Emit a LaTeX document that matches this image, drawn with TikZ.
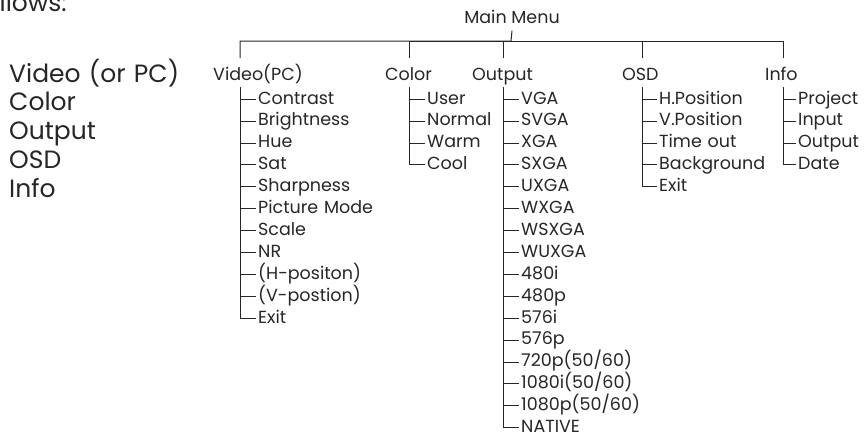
\documentclass[tikz,border=0pt]{standalone}
\usepackage{fontspec}
\setmainfont{Poppins}
\usetikzlibrary{positioning}

\begin{document}
\begin{tikzpicture}[
    x=1pt, y=-1pt,
    node distance=5pt,
    every node/.style={text=black!85},
    lst/.style={inner sep=0pt, text width=190pt, align=left, text height=19pt, text depth=6pt, font=\fontsize{25}{29}\selectfont},
    cat/.style={inner sep=0pt, text height=13pt, text depth=3.5pt, font=\fontsize{17.5}{20}\selectfont},
    item/.style={cat, inner xsep=2pt, align=left, text width=#1},
    item/.default=100pt,
    link/.style={draw=black!85, line width=1pt}
]
\useasboundingbox (0,0) rectangle (866,439);

% Cut-off line of text at the top
\node[inner sep=0pt, anchor=base east, font=\fontsize{25}{29}\selectfont] (intro) at (67,11) {follows:};

% Left list
\node[lst, anchor=base west] (lvid) at (9,82) {Video (or PC)};
\node[lst, below=3.5pt of lvid] (lcol) {Color};
\node[lst, below=3.5pt of lcol] (lout) {Output};
\node[lst, below=3.5pt of lout] (losd) {OSD};
\node[lst, below=3.5pt of losd] (linf) {Info};

% Root
\node[cat, inner ysep=4pt, anchor=base] (mm) at (512,23) {Main Menu};

% Menu groups
\node[cat, anchor=base west] (vid) at (213,80) {Video(PC)};
\node[cat, anchor=base west] (col) at (385,80) {Color};
\node[cat, anchor=base west] (out) at (472,80) {Output};
\node[cat, anchor=base west] (osd) at (622,80) {OSD};
\node[cat, anchor=base west] (inf) at (765,80) {Info};

% Bus and drops
\coordinate (bus) at (511,41);
\coordinate (vdrop) at (240,58);
\coordinate (cdrop) at (409,58);
\coordinate (odrop) at (503,58);
\coordinate (sdrop) at (642,58);
\coordinate (idrop) at (783,58);

% Trunk tops
\coordinate (vtrunk) at (240,87);
\coordinate (ctrunk) at (409,87);
\coordinate (otrunk) at (503,87);
\coordinate (strunk) at (642,87);
\coordinate (itrunk) at (783,87);

% Video(PC) items
\node[item=130pt, anchor=base west] (vcon) at (256,104) {Contrast};
\node[item=130pt, below=of vcon] (vbri) {Brightness};
\node[item=130pt, below=of vbri] (vhue) {Hue};
\node[item=130pt, below=of vhue] (vsat) {Sat};
\node[item=130pt, below=of vsat] (vsha) {Sharpness};
\node[item=130pt, below=of vsha] (vpic) {Picture Mode};
\node[item=130pt, below=of vpic] (vsca) {Scale};
\node[item=130pt, below=of vsca] (vnr) {NR};
\node[item=130pt, below=of vnr] (vhpos) {(H-positon)};
\node[item=130pt, below=of vhpos] (vvpos) {(V-postion)};
\node[item=130pt, below=of vvpos] (vexit) {Exit};

% Color items
\node[item=70pt, anchor=base west] (cuser) at (425,104) {User};
\node[item=70pt, below=of cuser] (cnorm) {Normal};
\node[item=70pt, below=of cnorm] (cwarm) {Warm};
\node[item=70pt, below=of cwarm] (ccool) {Cool};

% Output items
\node[item=130pt, anchor=base west] (ovga) at (519,104) {VGA};
\node[item=130pt, below=of ovga] (osvga) {SVGA};
\node[item=130pt, below=of osvga] (oxga) {XGA};
\node[item=130pt, below=of oxga] (osxga) {SXGA};
\node[item=130pt, below=of osxga] (ouxga) {UXGA};
\node[item=130pt, below=of ouxga] (owxga) {WXGA};
\node[item=130pt, below=of owxga] (owsxga) {WSXGA};
\node[item=130pt, below=of owsxga] (owuxga) {WUXGA};
\node[item=130pt, below=of owuxga] (o480i) {480i};
\node[item=130pt, below=of o480i] (o480p) {480p};
\node[item=130pt, below=of o480p] (o576i) {576i};
\node[item=130pt, below=of o576i] (o576p) {576p};
\node[item=130pt, below=of o576p] (o720p) {720p(50/60)};
\node[item=130pt, below=of o720p] (o1080i) {1080i(50/60)};
\node[item=130pt, below=of o1080i] (o1080p) {1080p(50/60)};
\node[item=130pt, below=of o1080p] (onat) {NATIVE};

% OSD items
\node[item=110pt, anchor=base west] (shpos) at (657,104) {H.Position};
\node[item=110pt, below=of shpos] (svpos) {V.Position};
\node[item=110pt, below=of svpos] (stime) {Time out};
\node[item=110pt, below=of stime] (sback) {Background};
\node[item=110pt, below=of sback] (sexit) {Exit};

% Info items
\node[item=70pt, anchor=base west] (iproj) at (796,104) {Project};
\node[item=70pt, below=of iproj] (iinp) {Input};
\node[item=70pt, below=of iinp] (iout) {Output};
\node[item=70pt, below=of iout] (idate) {Date};

% Connectors - top level
\draw[link] (mm.south) -- (bus) -| (vdrop);
\draw[link] (bus) -| (cdrop) (bus) -| (odrop) (bus) -| (sdrop) (bus) -| (idrop);

% Connectors - Video(PC)
\draw[link] (vtrunk) |- (vcon.west) (vtrunk) |- (vbri.west) (vtrunk) |- (vhue.west)
    (vtrunk) |- (vsat.west) (vtrunk) |- (vsha.west) (vtrunk) |- (vpic.west)
    (vtrunk) |- (vsca.west) (vtrunk) |- (vnr.west) (vtrunk) |- (vhpos.west)
    (vtrunk) |- (vvpos.west) (vtrunk) |- (vexit.west);

% Connectors - Color
\draw[link] (ctrunk) |- (cuser.west) (ctrunk) |- (cnorm.west)
    (ctrunk) |- (cwarm.west) (ctrunk) |- (ccool.west);

% Connectors - Output
\draw[link] (otrunk) |- (ovga.west) (otrunk) |- (osvga.west) (otrunk) |- (oxga.west)
    (otrunk) |- (osxga.west) (otrunk) |- (ouxga.west) (otrunk) |- (owxga.west)
    (otrunk) |- (owsxga.west) (otrunk) |- (owuxga.west) (otrunk) |- (o480i.west)
    (otrunk) |- (o480p.west) (otrunk) |- (o576i.west) (otrunk) |- (o576p.west)
    (otrunk) |- (o720p.west) (otrunk) |- (o1080i.west) (otrunk) |- (o1080p.west)
    (otrunk) |- (onat.west);

% Connectors - OSD
\draw[link] (strunk) |- (shpos.west) (strunk) |- (svpos.west) (strunk) |- (stime.west)
    (strunk) |- (sback.west) (strunk) |- (sexit.west);

% Connectors - Info
\draw[link] (itrunk) |- (iproj.west) (itrunk) |- (iinp.west)
    (itrunk) |- (iout.west) (itrunk) |- (idate.west);

\end{tikzpicture}
\end{document}
